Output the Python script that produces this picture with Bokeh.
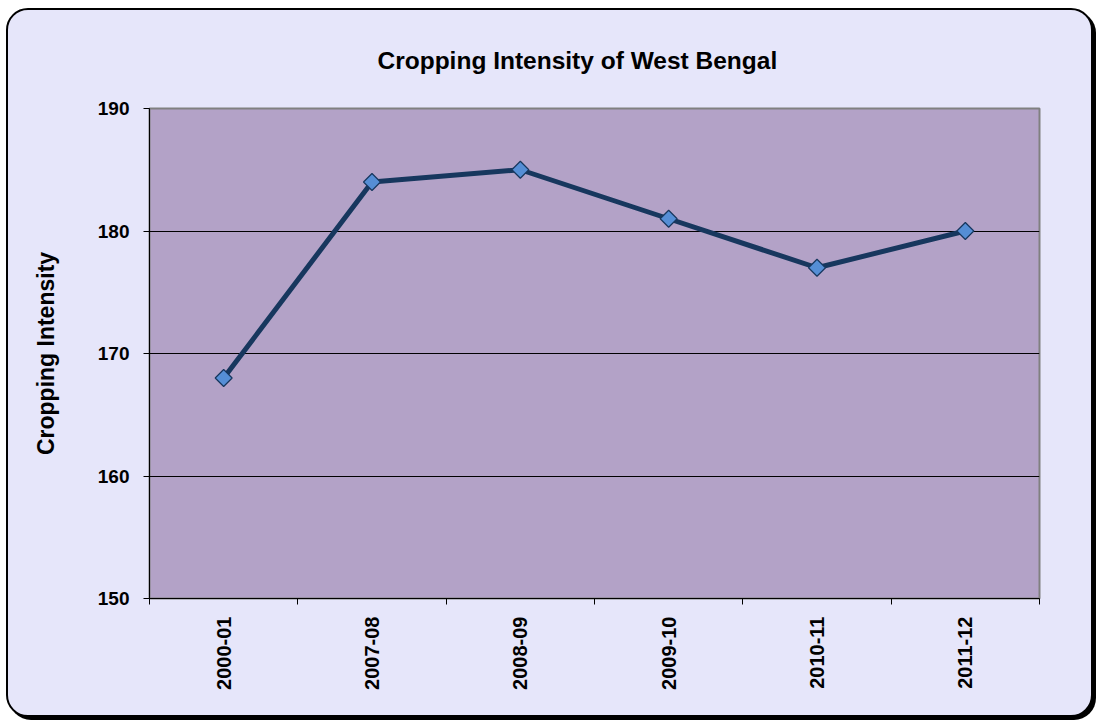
import numpy as np
from bokeh.plotting import figure
from bokeh.models import Range1d, FixedTicker
from bokeh.embed import file_html
from bokeh.resources import INLINE

categories = ["2000-01", "2007-08", "2008-09", "2009-10", "2010-11", "2011-12"]
values = [168, 184, 185, 181, 177, 180]
y_ticks = [150, 160, 170, 180, 190]

x = [i + 0.5 for i in range(len(categories))]
FONT = "Liberation Sans"

p = figure(width=1087, height=709, x_range=Range1d(0, len(categories)), y_range=Range1d(150, 190),
           output_backend="svg", toolbar_location=None,
           min_border_left=141, min_border_right=56, min_border_top=98, min_border_bottom=121)

p.styles = {"border": "2px solid black", "border-radius": "22px", "box-shadow": "3px 3px 0 0 black",
            "background-color": "#E6E6FA", "overflow": "hidden", "box-sizing": "border-box",
            "margin-left": "6px", "margin-top": "8px"}
p.border_fill_color = None
p.background_fill_color = "#B3A2C7"
p.outline_line_color = "#808080"
p.outline_line_width = 2

p.title.text = "Cropping Intensity of West Bengal"
p.title.text_font = FONT
p.title.text_font_style = "bold"
p.title.text_font_size = "24.5px"
p.title.text_color = "black"
p.title.align = "left"
p.title.vertical_align = "top"
p.title.offset = 228
p.title.standoff = 66

# grid
p.xgrid.visible = False
p.ygrid.ticker = FixedTicker(ticks=[160, 170, 180])
p.ygrid.grid_line_color = "black"
p.ygrid.grid_line_width = 1

# y axis
ya = p.yaxis[0]
ya.ticker = FixedTicker(ticks=y_ticks, minor_ticks=[])
ya.axis_line_color = "black"
ya.major_tick_line_color = "black"
ya.major_tick_out = 6
ya.major_tick_in = 0
ya.minor_tick_line_color = None
ya.major_label_text_font = FONT
ya.major_label_text_font_style = "bold"
ya.major_label_text_font_size = "19px"
ya.major_label_text_color = "black"
ya.major_label_standoff = 14
ya.axis_label = "Cropping Intensity"
ya.axis_label_text_font = FONT
ya.axis_label_text_font_style = "bold"
ya.axis_label_text_font_size = "23px"
ya.axis_label_text_color = "black"
ya.axis_label_standoff = 36

# x axis
xa = p.xaxis[0]
xa.ticker = FixedTicker(ticks=x, minor_ticks=list(range(len(categories) + 1)))
xa.major_label_overrides = {xi: c for xi, c in zip(x, categories)}
xa.axis_line_color = "black"
xa.major_tick_line_color = None
xa.major_tick_out = 6
xa.major_tick_in = 0
xa.minor_tick_line_color = "black"
xa.minor_tick_out = 6
xa.minor_tick_in = 0
xa.major_label_orientation = np.pi / 2
xa.major_label_text_font = FONT
xa.major_label_text_font_style = "bold"
xa.major_label_text_font_size = "20px"
xa.major_label_text_color = "black"
xa.major_label_standoff = 12

p.line(x, values, line_color="#17375E", line_width=5)
p.scatter(x, values, marker="square", angle=np.pi / 4, size=12,
          fill_color="#558ED5", line_color="#17375E", line_width=1.2)

open("out.html", "w").write(file_html(p, INLINE))
